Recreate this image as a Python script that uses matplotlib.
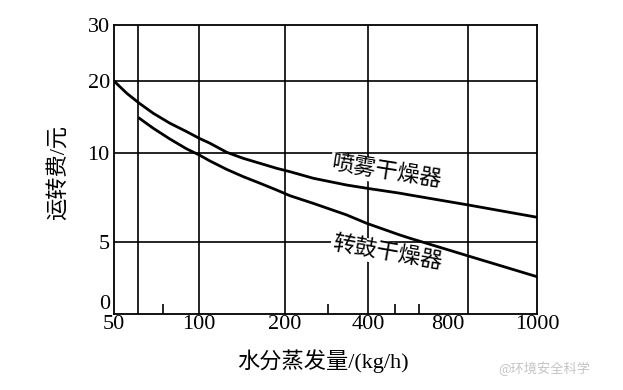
import matplotlib.pyplot as plt
import numpy as np

# evaporation rate (kg/h) and running cost
spray_x = [50, 55.5, 61.5, 68.9, 78.9, 90.5, 100.2, 109.3, 125, 142.9, 163.5,
           187, 208.5, 253.4, 334.8, 395.6, 527.8, 575.6, 841.8, 1000]
spray_y = [20, 18.29, 16.9, 15.51, 14.13, 12.96, 12.04, 11.35, 10.1, 9.7, 9.42,
           9.14, 8.95, 8.58, 8.2, 8.02, 7.74, 7.64, 7.08, 6.39]
drum_x = [61.5, 68.9, 78.9, 90.5, 100.2, 109.3, 125, 142.9, 163.5, 187, 208.5,
          253.4, 334.8, 395.6, 527.8, 575.6, 841.8, 1000]
drum_y = [14.82, 13.43, 11.94, 10.56, 9.89, 9.55, 9.08, 8.67, 8.3, 7.92, 7.6,
          7.17, 6.52, 6.05, 5.39, 5.21, 4.03, 2.59]

x_ticks = [50, 100, 200, 400, 800, 1000]
x_minor = [74.5, 286, 506, 622, 800]
x_grid = [61, 100, 200, 400, 841]
y_ticks = [0, 5, 10, 20, 30]
y_grid = [5, 10, 20]

# the printed chart has uneven scales; rebuild them piecewise
xs_pos = [0, 85, 171, 254, 334, 423]
ys_pos = [0, 72, 161, 233, 289]


def xfwd(v):
    v = np.clip(np.asarray(v, dtype=float), 1e-3, None)
    return np.interp(np.log(v), np.log(x_ticks), xs_pos, left=-1e3, right=1e3)


def xinv(p):
    return np.exp(np.interp(p, xs_pos, np.log(x_ticks)))


def yfwd(v):
    return np.interp(v, y_ticks, ys_pos)


def yinv(p):
    return np.interp(p, ys_pos, y_ticks)


serif = 'Liberation Serif'
cjk = [serif, 'Noto Sans CJK SC']

fig = plt.figure(figsize=(6.23, 3.90), dpi=100)
ax = fig.add_axes([114 / 623, 76 / 390, 423 / 623, 289 / 390])
ax.set_xscale('function', functions=(xfwd, xinv))
ax.set_yscale('function', functions=(yfwd, yinv))
ax.set_xlim(50, 1000)
ax.set_ylim(0, 30)

for gx in x_grid:
    ax.axvline(gx, color='black', lw=1.2, zorder=1)
for gy in y_grid:
    ax.axhline(gy, color='black', lw=1.2, zorder=1)

ax.plot(spray_x, spray_y, color='black', lw=2.0, zorder=3)
ax.plot(drum_x, drum_y, color='black', lw=2.0, zorder=3)

ax.set_xticks(x_ticks)
ax.set_xticklabels([str(v) for v in x_ticks], fontfamily=serif, fontsize=16)
ax.set_xticks(x_minor, minor=True)
ax.tick_params(axis='x', which='major', length=0, pad=1)
ax.tick_params(axis='x', which='minor', direction='in', length=7, width=1.2)
ax.set_yticks(y_ticks)
ax.set_yticklabels([str(v) for v in y_ticks], fontfamily=serif, fontsize=16)
ax.tick_params(axis='y', length=0, pad=3)
ax.get_yticklabels()[0].set_verticalalignment('bottom')

for s in ax.spines.values():
    s.set_linewidth(1.3)

ax.text(0.645, 0.49, '喷雾干燥器', transform=ax.transAxes, family=cjk,
        fontsize=16, rotation=-9, ha='center', va='center', zorder=4,
        bbox=dict(facecolor='white', edgecolor='none', pad=1))
ax.text(0.645, 0.21, '转鼓干燥器', transform=ax.transAxes, family=cjk,
        fontsize=16, rotation=-10, ha='center', va='center', zorder=4,
        bbox=dict(facecolor='white', edgecolor='none', pad=1))

fig.text(323 / 623, 1 - 361 / 390, '水分蒸发量/(kg/h)', family=cjk,
         fontsize=16, ha='center', va='center')
fig.text(58 / 623, 1 - 172 / 390, '运转费/元', family=cjk,
         fontsize=16, rotation=90, ha='center', va='center')
fig.text(498 / 623, 1 - 369 / 390, '@环境安全科学', family=['Noto Sans CJK SC'],
         fontsize=9.5, color='#c4c4c4', ha='left', va='center')

fig.savefig('out.png', dpi=100)
